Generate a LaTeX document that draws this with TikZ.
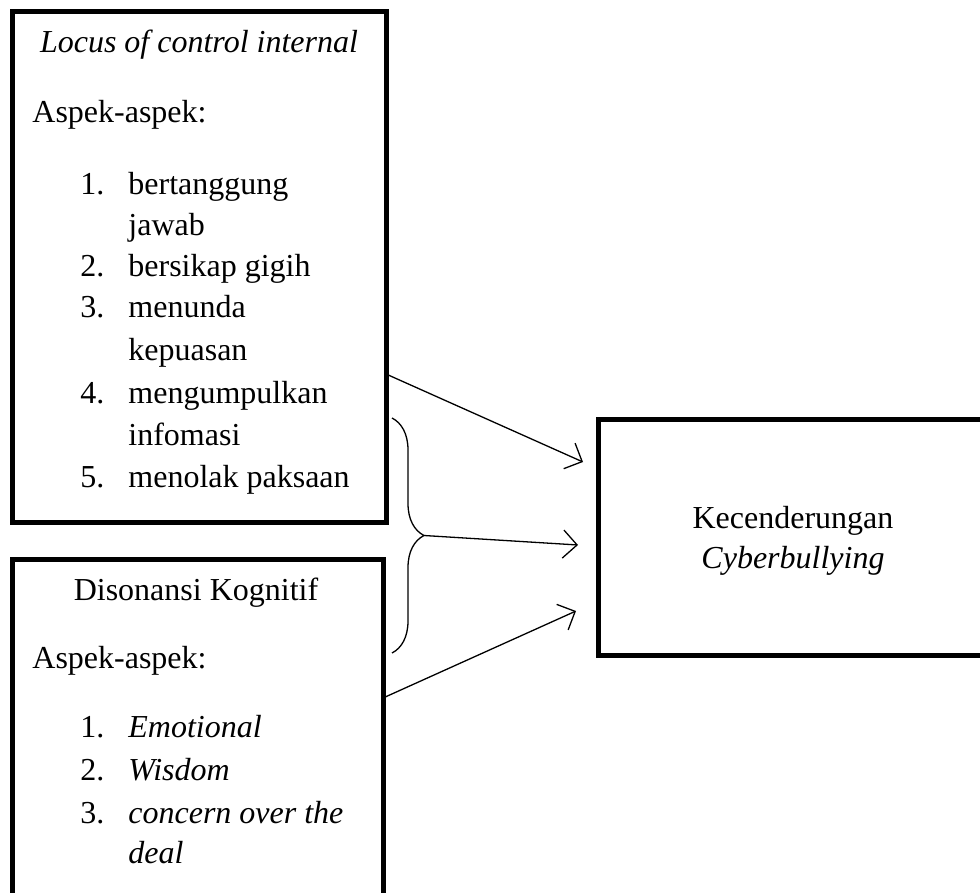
\documentclass[tikz,border=0pt]{standalone}
\usepackage{fontspec}
\setmainfont{Liberation Serif}
\usetikzlibrary{arrows.meta,calc,decorations.pathreplacing}
\tikzset{
  box/.style={draw, line width=2.5pt, rectangle, anchor=north west, inner sep=0pt, outer sep=0pt},
  txt/.style={anchor=base west, inner sep=0pt, font=\fontsize{16}{20}\selectfont},
  ctxt/.style={anchor=base, inner sep=0pt, font=\fontsize{16}{20}\selectfont},
  link/.style={line width=0.65pt, -{Straight Barb[length=7pt,width=14pt]}},
}
\begin{document}
\begin{tikzpicture}[x=0.5pt,y=-0.5pt]
\useasboundingbox (0,0) rectangle (980,893);
% boxes
\node[box, minimum width=187pt, minimum height=255pt] (locus) at (12,12) {};
\node[box, minimum width=185.5pt, minimum height=180pt] (disonansi) at (12,559) {};
\node[box, minimum width=201pt, minimum height=118pt] (cyber) at (598,419) {};
% locus of control
\node[ctxt] (locustitle) at (199,53) {\itshape Locus of control internal};
\node[txt] (locusaspek) at (32,123) {Aspek-aspek:};
\node[txt] (l1) at (80,195) {1.};
\node[txt] (l1t) at (128,195) {bertanggung};
\node[txt] (l1u) at (128,236) {jawab};
\node[txt] (l2) at (80,277) {2.};
\node[txt] (l2t) at (128,277) {bersikap gigih};
\node[txt] (l3) at (80,318) {3.};
\node[txt] (l3t) at (128,318) {menunda};
\node[txt] (l3u) at (128,360) {kepuasan};
\node[txt] (l4) at (80,403) {4.};
\node[txt] (l4t) at (128,403) {mengumpulkan};
\node[txt] (l4u) at (128,445) {infomasi};
\node[txt] (l5) at (80,487) {5.};
\node[txt] (l5t) at (128,487) {menolak paksaan};
% disonansi kognitif
\node[ctxt] (distitle) at (196,600) {Disonansi Kognitif};
\node[txt] (disaspek) at (32,668) {Aspek-aspek:};
\node[txt] (d1) at (80,737) {1.};
\node[txt] (d1t) at (128,737) {\itshape Emotional};
\node[txt] (d2) at (80,780) {2.};
\node[txt] (d2t) at (128,780) {\itshape Wisdom};
\node[txt] (d3) at (80,823) {3.};
\node[txt] (d3t) at (128,823) {\itshape concern over the};
\node[txt] (d3u) at (128,863) {\itshape deal};
% kecenderungan
\node[ctxt] (cybera) at (793,528) {Kecenderungan};
\node[ctxt] (cyberb) at (793,568) {\itshape Cyberbullying};
% brace and arrows
\draw[line width=0.65pt, decorate, decoration={brace, amplitude=16pt}] (392,418) -- (392,653);
\coordinate (bracetip) at (424,535.5);
\coordinate (out1) at ($(locus.south east)+(0,-148)$);
\coordinate (out3) at ($(disonansi.north east)+(0,139)$);
\coordinate (in1) at ($(cyber.north west)+(-15,43)$);
\coordinate (in2) at ($(cyber.north west)+(-20,126)$);
\coordinate (in3) at ($(cyber.north west)+(-22,192)$);
\draw[link] (out1) -- (in1);
\draw[link] (bracetip) -- (in2);
\draw[link] (out3) -- (in3);
\end{tikzpicture}
\end{document}
